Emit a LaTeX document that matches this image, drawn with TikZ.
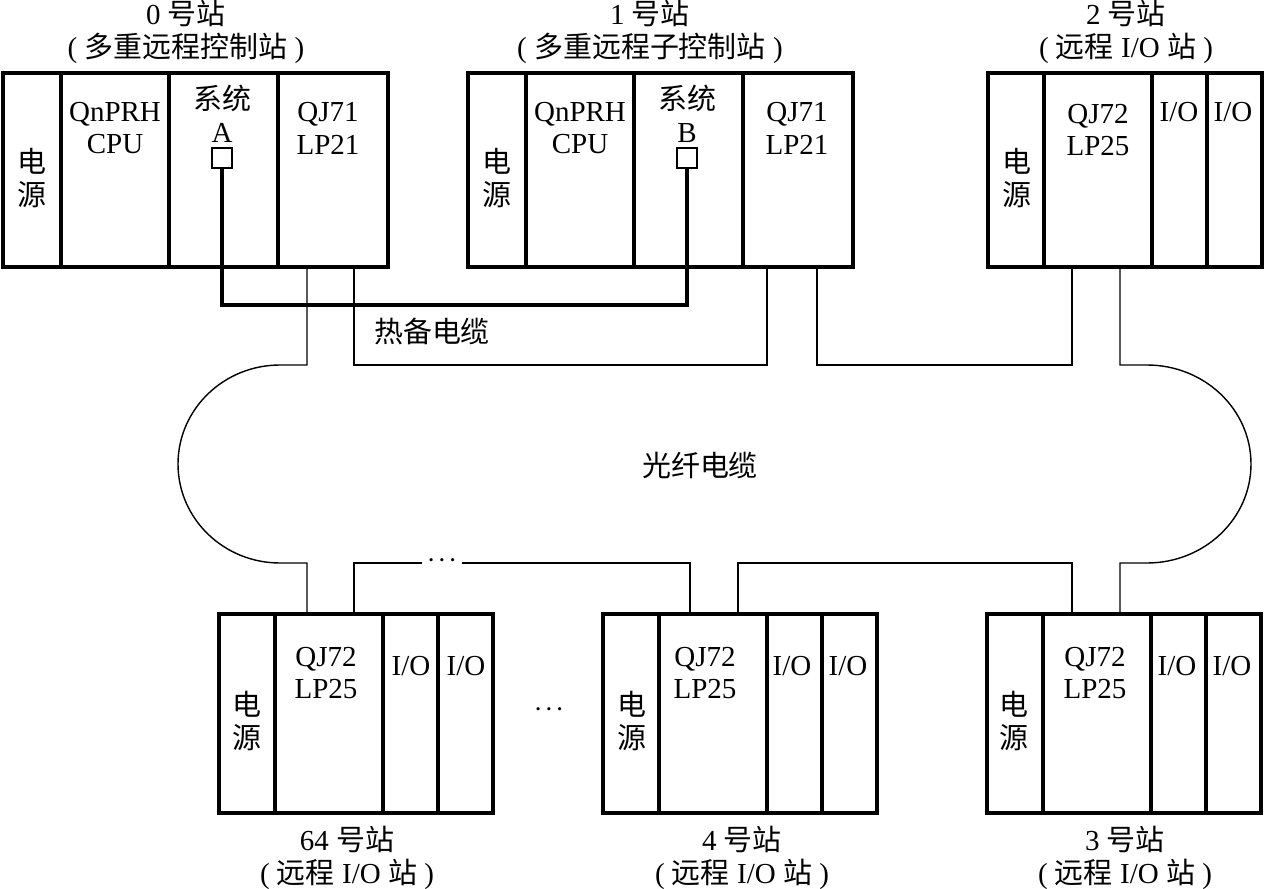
\documentclass[tikz,border=0pt]{standalone}
\usepackage{fontspec}
\setmainfont{Liberation Serif}
\newfontfamily\cjk{Noto Sans CJK SC}
\newcommand{\zh}[1]{{\cjk #1}}

\begin{document}
\begin{tikzpicture}[x=0.02cm,y=-0.02cm,
  rack/.style={line width=2.4pt},
  fiber/.style={line width=0.8pt},
  standby/.style={line width=2pt},
  port/.style={draw,line width=0.9pt,minimum size=0.4cm,inner sep=0pt},
  lbl/.style={align=center,inner sep=0pt,font=\fontsize{16.5}{18.7}\selectfont}]
\useasboundingbox (0,0) rectangle (1265,889);

% redundant master and sub-master racks
\draw[rack] (3,73) rectangle (388,267);
\foreach \x in {61,169,278} \draw[rack] (\x,73) -- (\x,267);
\draw[rack] (468,73) rectangle (853,267);
\foreach \x in {526,634,743} \draw[rack] (\x,73) -- (\x,267);

% remote I/O racks
\foreach \x/\y/\h in {988/73/194, 219/614/199, 603/614/199, 987/614/199} {
  \draw[rack] (\x,\y) rectangle ++(274,\h);
  \foreach \d in {56,164,219} \draw[rack] (\x+\d,\y) -- ++(0,\h);
}

% station 0
\node[lbl] (t0) at (186,32) {0 \zh{号站}\\( \zh{多重远程控制站} )};
\node[lbl] (pw0) at (32,178) {\zh{电}\\\zh{源}};
\node[lbl] (cpu0) at (115,128) {QnPRH\\CPU};
\node[lbl] (sys0) at (222,114) {\zh{系统}\\A};
\node[port] (sqA) at (222,158) {};
\node[lbl] (lp0) at (328,128) {QJ71\\LP21};

% station 1
\node[lbl] (t1) at (650,32) {1 \zh{号站}\\( \zh{多重远程子控制站} )};
\node[lbl] (pw1) at (497,178) {\zh{电}\\\zh{源}};
\node[lbl] (cpu1) at (580,128) {QnPRH\\CPU};
\node[lbl] (sys1) at (687,114) {\zh{系统}\\B};
\node[port] (sqB) at (687,158) {};
\node[lbl] (lp1) at (797,128) {QJ71\\LP21};

% station 2
\node[lbl] (t2) at (1126,32) {2 \zh{号站}\\( \zh{远程} I/O \zh{站} )};
\node[lbl] (pw2) at (1017,178) {\zh{电}\\\zh{源}};
\node[lbl] (lp2) at (1098,130) {QJ72\\LP25};
\node[lbl] (io2a) at (1179,112) {I/O};
\node[lbl] (io2b) at (1233,112) {I/O};

% station 64
\node[lbl] (t64) at (347,858) {64 \zh{号站}\\( \zh{远程} I/O \zh{站} )};
\node[lbl] (pw64) at (247,721) {\zh{电}\\\zh{源}};
\node[lbl] (lp64) at (326,673) {QJ72\\LP25};
\node[lbl] (io64a) at (411,666) {I/O};
\node[lbl] (io64b) at (466,666) {I/O};

% station 4
\node[lbl] (t4) at (742,858) {4 \zh{号站}\\( \zh{远程} I/O \zh{站} )};
\node[lbl] (pw4) at (632,721) {\zh{电}\\\zh{源}};
\node[lbl] (lp4) at (705,673) {QJ72\\LP25};
\node[lbl] (io4a) at (792,666) {I/O};
\node[lbl] (io4b) at (848,666) {I/O};

% station 3
\node[lbl] (t3) at (1125,858) {3 \zh{号站}\\( \zh{远程} I/O \zh{站} )};
\node[lbl] (pw3) at (1014,721) {\zh{电}\\\zh{源}};
\node[lbl] (lp3) at (1095,673) {QJ72\\LP25};
\node[lbl] (io3a) at (1177,666) {I/O};
\node[lbl] (io3b) at (1232,666) {I/O};

\node[lbl,font=\fontsize{12}{14}\selectfont\boldmath] (gap) at (549,710) {$\cdots$};
\node[lbl] (hot) at (432,331) {\zh{热备电缆}};
\node[lbl] (fib) at (700,465) {\zh{光纤电缆}};

% cable ports
\coordinate (p0a) at (307,267);
\coordinate (p0b) at (354,267);
\coordinate (p1a) at (767,267);
\coordinate (p1b) at (817,267);
\coordinate (p2a) at (1072,267);
\coordinate (p2b) at (1120,267);
\coordinate (p64a) at (307,614);
\coordinate (p64b) at (354,614);
\coordinate (p4a) at (690,614);
\coordinate (p4b) at (738,614);
\coordinate (p3a) at (1072,614);
\coordinate (p3b) at (1120,614);
\coordinate (up) at (0,365);
\coordinate (lo) at (0,563);
\node[lbl,font=\fontsize{12}{14}\selectfont\boldmath,minimum width=0.8cm] (more) at (442,561) {$\cdots$};

% hot standby cable
\draw[standby] (sqA.south) -- (sqA.south |- 0,305) -| (sqB.south);

% optical fibre loop
\draw[fiber] (p0b) -- (p0b |- up) -| (p1a);
\draw[fiber] (p1b) -- (p1b |- up) -| (p2a);
\draw[fiber] (p2b) -- (p2b |- up) -- (1147,365)
  arc[start angle=270,end angle=450,x radius=104,y radius=99] -- (p3b |- lo) -- (p3b);
\draw[fiber] (p3a) -- (p3a |- lo) -| (p4b);
\draw[fiber] (p4a) -- (p4a |- lo) -- (more.east |- lo);
\draw[fiber] (more.west |- lo) -| (p64b);
\draw[fiber] (p64a) -- (p64a |- lo) -- (280,563)
  arc[start angle=90,end angle=270,x radius=102,y radius=99] -- (p0a |- up) -- (p0a);
\end{tikzpicture}
\end{document}
